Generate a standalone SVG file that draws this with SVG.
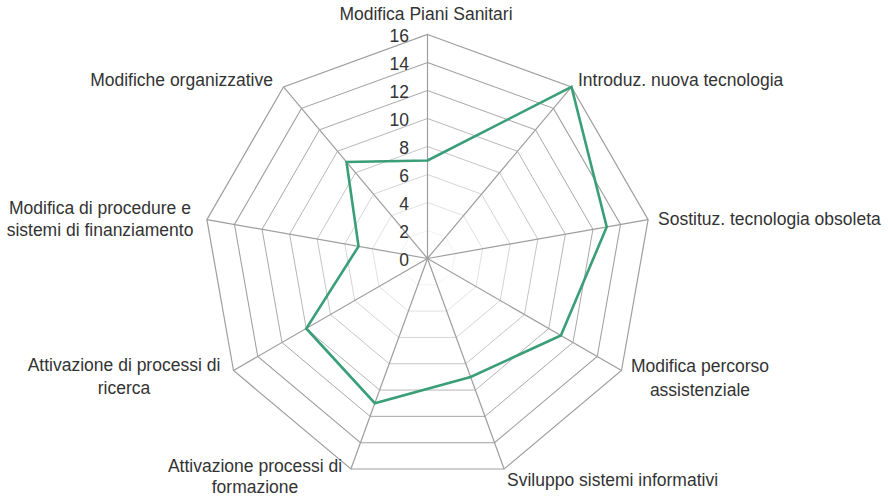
<svg xmlns="http://www.w3.org/2000/svg" width="888" height="497" viewBox="0 0 888 497">
<style>
.grid{fill:none;stroke:#9e9e9e;stroke-width:1.2;vector-effect:non-scaling-stroke}
.spoke{stroke:#9e9e9e;stroke-width:1.2}
.data{fill:none;stroke:#3a9e78;stroke-width:2.6;stroke-linejoin:miter}
text{font-family:"Liberation Sans",Arial,sans-serif;font-size:17.5px;fill:#333333}
.tick{text-anchor:end}
.mid{text-anchor:middle}
</style>
<defs>
<polygon id="ring" points="0,-224 143.99,-171.58 220.6,-38.89 193.99,112 76.61,210.49 -76.61,210.49 -193.99,112 -220.6,-38.89 -143.99,-171.58"/>
</defs>
<rect width="888" height="497" fill="#ffffff"/>
<g id="grid" transform="translate(427.5 258.5)">
<use href="#ring" class="grid" transform="scale(0.125)"/>
<use href="#ring" class="grid" transform="scale(0.25)"/>
<use href="#ring" class="grid" transform="scale(0.375)"/>
<use href="#ring" class="grid" transform="scale(0.5)"/>
<use href="#ring" class="grid" transform="scale(0.625)"/>
<use href="#ring" class="grid" transform="scale(0.75)"/>
<use href="#ring" class="grid" transform="scale(0.875)"/>
<use href="#ring" class="grid"/>
<g class="spoke">
<line x1="0" y1="0" x2="0" y2="-224"/>
<line x1="0" y1="0" x2="143.99" y2="-171.58"/>
<line x1="0" y1="0" x2="220.6" y2="-38.89"/>
<line x1="0" y1="0" x2="193.99" y2="112"/>
<line x1="0" y1="0" x2="76.61" y2="210.49"/>
<line x1="0" y1="0" x2="-76.61" y2="210.49"/>
<line x1="0" y1="0" x2="-193.99" y2="112"/>
<line x1="0" y1="0" x2="-220.6" y2="-38.89"/>
<line x1="0" y1="0" x2="-143.99" y2="-171.58"/>
</g>
</g>
<g id="series" transform="translate(427.5 258.5)">
<polygon class="data" points="0,-98 143.99,-171.58 179.23,-31.6 133.37,77 43.09,118.4 -52.67,144.71 -121.24,70 -68.94,-12.15 -80.99,-96.52"/>
</g>
<g id="ticks">
<text class="tick" x="409" y="42">16</text>
<text class="tick" x="409" y="70">14</text>
<text class="tick" x="409" y="98">12</text>
<text class="tick" x="409" y="126">10</text>
<text class="tick" x="409" y="154">8</text>
<text class="tick" x="409" y="182">6</text>
<text class="tick" x="409" y="210">4</text>
<text class="tick" x="409" y="238">2</text>
<text class="tick" x="409" y="266">0</text>
</g>
<g id="axis0"><text class="mid" x="426" y="20">Modifica Piani Sanitari</text></g>
<g id="axis1"><text x="578" y="86">Introduz. nuova tecnologia</text></g>
<g id="axis2"><text x="658" y="225">Sostituz. tecnologia obsoleta</text></g>
<g id="axis3"><text class="mid" x="700" y="372">Modifica percorso</text><text class="mid" x="700" y="396">assistenziale</text></g>
<g id="axis4"><text x="507" y="486">Sviluppo sistemi informativi</text></g>
<g id="axis5"><text class="mid" x="255" y="472">Attivazione processi di</text><text class="mid" x="255" y="493">formazione</text></g>
<g id="axis6"><text class="mid" x="124" y="371">Attivazione di processi di</text><text class="mid" x="124" y="394">ricerca</text></g>
<g id="axis7"><text class="mid" x="100" y="214">Modifica di procedure e</text><text class="mid" x="100" y="236">sistemi di finanziamento</text></g>
<g id="axis8"><text class="tick" x="273" y="86">Modifiche organizzative</text></g>
</svg>
